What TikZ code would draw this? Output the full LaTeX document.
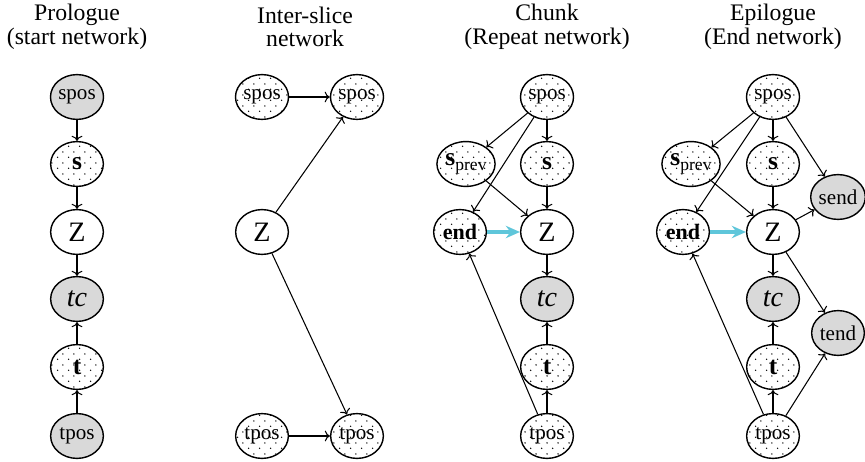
\documentclass[tikz,border=0pt]{standalone}
\usepackage{fontspec}
\setmainfont{Liberation Serif}
\usepackage{tikz}
\usetikzlibrary{positioning, arrows.meta, shapes.geometric, patterns}
\usepackage{xcolor}
\definecolor{linkblue}{RGB}{95, 198, 218}

% sparse staggered dots for the hidden variables
\pgfdeclarepatternformonly{sparse dots}{\pgfpointorigin}{\pgfqpoint{6.4pt}{6.4pt}}{\pgfqpoint{6.4pt}{6.4pt}}{%
  \pgfpathcircle{\pgfqpoint{1.6pt}{1.6pt}}{.45pt}%
  \pgfpathcircle{\pgfqpoint{4.8pt}{4.8pt}}{.45pt}%
  \pgfusepath{fill}}

\newcommand{\sprev}{\fontsize{14.5}{16}\selectfont\textbf{s}\fontsize{10}{11}\selectfont\raisebox{-2.8pt}{prev}}

\begin{document}
\begin{tikzpicture}[x=0.02cm, y=-0.02cm,
    every node/.style={font=\fontsize{12}{14}\selectfont},
    var/.style={ellipse, draw, line width=0.8pt, inner sep=0pt,
                minimum width=30pt, minimum height=25.5pt},
    obs/.style={var, fill=gray!30},
    hid/.style={var, pattern=sparse dots, pattern color=black},
    big/.style={font=\fontsize{16}{18}\selectfont},
    bold/.style={font=\fontsize{14.5}{16}\selectfont\bfseries},
    title/.style={align=center, font=\fontsize{13.5}{13.5}\selectfont},
    arr/.style={->, line width=0.6pt},
    link/.style={-{Stealth[length=8pt, width=7pt]}, line width=1.8pt, linkblue}]
  \useasboundingbox (0,0) rectangle (865,462);

  % titles
  \node[title] (tp) at (77,27)  {Prologue\\(start network)};
  \node[title] (ti) at (305,27) {Inter-slice\\network};
  \node[title] (tc) at (547,27) {Chunk\\(Repeat network)};
  \node[title] (te) at (773,27) {Epilogue\\(End network)};

  % prologue
  \node[obs] (pspos) at (77,97)  {spos};
  \node[hid, bold] (ps) at (77,164) {s};
  \node[var, big] (pz) at (77,232) {Z};
  \node[obs, big] (ptc) at (77,299) {\itshape tc};
  \node[hid, bold] (pt) at (77,367) {t};
  \node[obs] (ptpos) at (77,436) {tpos};
  \draw[arr] (pspos) -- (ps);
  \draw[arr] (ps) -- (pz);
  \draw[arr] (pz) -- (ptc);
  \draw[arr] (pt) -- (ptc);
  \draw[arr] (ptpos) -- (pt);

  % inter-slice
  \node[hid] (ispos) at (262,97)  {spos};
  \node[hid] (ispos2) at (357,97) {spos};
  \node[var, big] (iz) at (262,232) {Z};
  \node[hid] (itpos) at (262,436) {tpos};
  \node[hid] (itpos2) at (357,436) {tpos};
  \draw[arr] (ispos) -- (ispos2);
  \draw[arr] (iz) -- (ispos2);
  \draw[arr] (iz) -- (itpos2);
  \draw[arr] (itpos) -- (itpos2);

  % chunk
  \node[hid] (cspos) at (547,97) {spos};
  \node[hid] (csprev) at (466,164) {\sprev};
  \node[hid, bold] (cs) at (547,164) {s};
  \node[hid, font=\fontsize{12.5}{14}\selectfont\bfseries] (cend) at (460,232) {end};
  \node[var, big] (cz) at (547,232) {Z};
  \node[obs, big] (ctc) at (547,299) {\itshape tc};
  \node[hid, bold] (ct) at (547,367) {t};
  \node[hid] (ctpos) at (547,436) {tpos};
  \draw[arr] (cspos) -- (csprev);
  \draw[arr] (cspos) -- (cend);
  \draw[arr] (cspos) -- (cs);
  \draw[arr] (cs) -- (cz);
  \draw[arr] (csprev) -- (cz);
  \draw[link] (cend) -- (cz);
  \draw[arr] (cz) -- (ctc);
  \draw[arr] (ct) -- (ctc);
  \draw[arr] (ctpos) -- (ct);
  \draw[arr] (ctpos) -- (cend);

  % epilogue
  \node[hid] (espos) at (773,97) {spos};
  \node[hid] (esprev) at (691,164) {\sprev};
  \node[hid, bold] (es) at (773,164) {s};
  \node[hid, font=\fontsize{12.5}{14}\selectfont\bfseries] (eend) at (683,232) {end};
  \node[var, big] (ez) at (773,232) {Z};
  \node[obs, big] (etc) at (773,299) {\itshape tc};
  \node[hid, bold] (et) at (773,367) {t};
  \node[hid] (etpos) at (773,436) {tpos};
  \node[obs] (esend) at (838,197) {send};
  \node[obs] (etend) at (838,333) {tend};
  \draw[arr] (espos) -- (esprev);
  \draw[arr] (espos) -- (eend);
  \draw[arr] (espos) -- (es);
  \draw[arr] (espos) -- (esend);
  \draw[arr] (es) -- (ez);
  \draw[arr] (esprev) -- (ez);
  \draw[link] (eend) -- (ez);
  \draw[arr] (ez) -- (esend);
  \draw[arr] (ez) -- (etend);
  \draw[arr] (ez) -- (etc);
  \draw[arr] (et) -- (etc);
  \draw[arr] (etpos) -- (et);
  \draw[arr] (etpos) -- (eend);
  \draw[arr] (etpos) -- (etend);
\end{tikzpicture}
\end{document}
